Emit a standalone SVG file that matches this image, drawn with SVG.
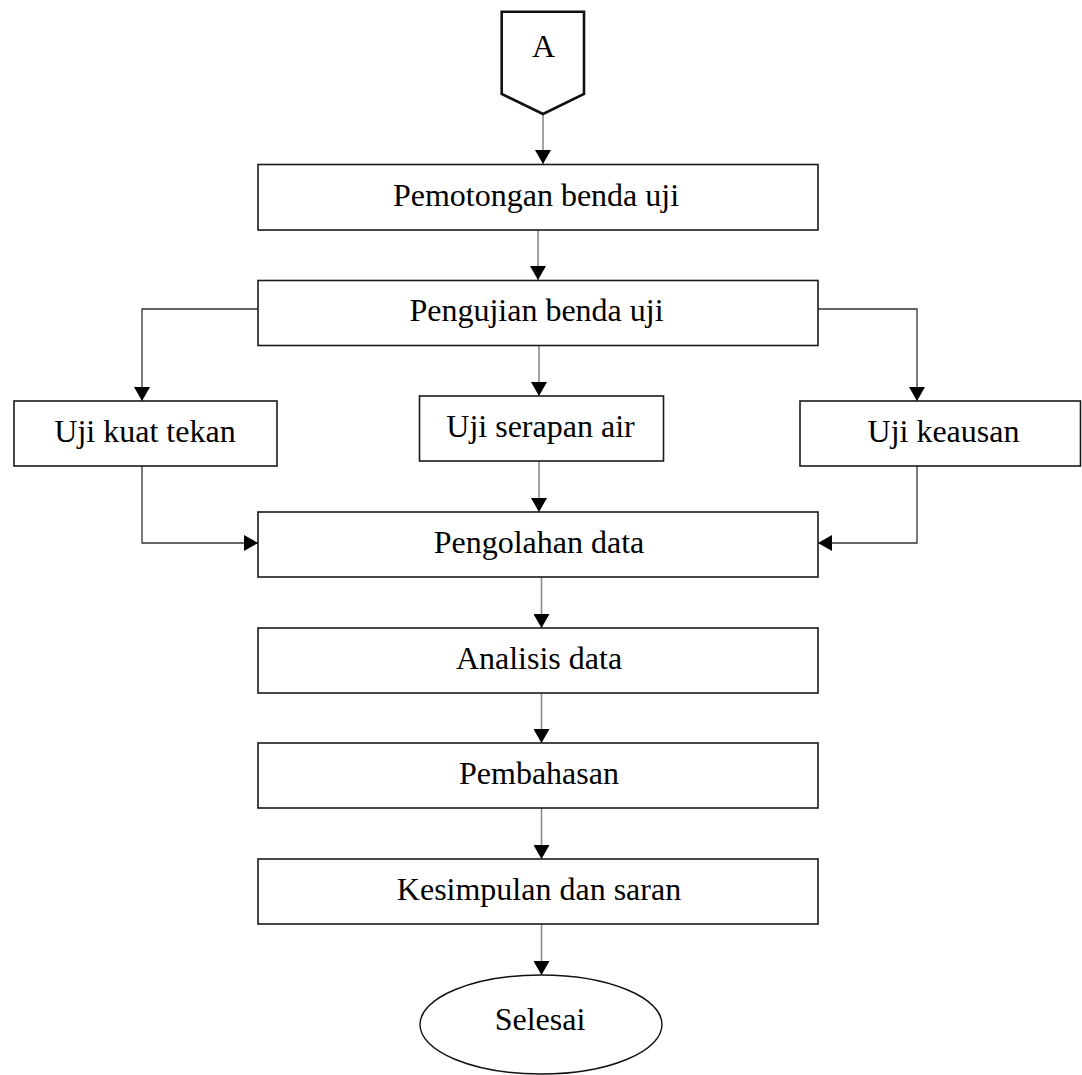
<svg xmlns="http://www.w3.org/2000/svg" width="1082" height="1075" viewBox="0 0 1082 1075">
<style>
.box{fill:#fff;stroke:#1a1a1a;stroke-width:1.6}
.t{font-family:"Liberation Serif","Times New Roman",serif;font-size:32px;fill:#000;text-anchor:middle}
.c{fill:none;stroke:#8a8a8a;stroke-width:1.6;marker-end:url(#ah)}
.s{fill:none;stroke:#333;stroke-width:1.3;marker-end:url(#ah)}
</style>
<defs>
<marker id="ah" markerUnits="userSpaceOnUse" markerWidth="16" markerHeight="16" refX="14" refY="8" orient="auto" viewBox="0 0 16 16">
<path d="M0,0 L14,8 L0,16 Z" fill="#000"/>
</marker>
</defs>
<rect width="1082" height="1075" fill="#fff"/>
<g id="connectors">
<path class="c" d="M543,114 V164"/>
<path class="c" d="M538,230 V280"/>
<path class="c" d="M539,346 V396"/>
<path class="s" d="M258,309 H142 V401"/>
<path class="s" d="M818,309 H917 V401"/>
<path class="c" d="M539,461 V512"/>
<path class="s" d="M142,466 V543 H258"/>
<path class="s" d="M917,466 V543 H818"/>
<path class="c" d="M541.5,577 V628"/>
<path class="c" d="M541.5,693 V743"/>
<path class="c" d="M541.5,808 V859"/>
<path class="c" d="M541.5,924 V975"/>
</g>
<g id="nodeA">
<path d="M501.7,11.7 H584 V94 L543,114 L501.7,94 Z" fill="#fff" stroke="#111" stroke-width="2.6" stroke-linejoin="miter"/>
<text class="t" x="543.5" y="57">A</text>
</g>
<g id="pemotongan">
<rect class="box" x="258" y="164.5" width="560" height="65.5"/>
<text class="t" x="536" y="205.5">Pemotongan benda uji</text>
</g>
<g id="pengujian">
<rect class="box" x="258" y="280.5" width="560" height="65"/>
<text class="t" x="536.5" y="320.5">Pengujian benda uji</text>
</g>
<g id="kuat-tekan">
<rect class="box" x="14" y="401" width="263" height="65"/>
<text class="t" x="145" y="442">Uji kuat tekan</text>
</g>
<g id="serapan">
<rect class="box" x="419.5" y="396" width="244" height="65"/>
<text class="t" x="540.5" y="436.5">Uji serapan air</text>
</g>
<g id="keausan">
<rect class="box" x="800" y="401" width="280.5" height="65"/>
<text class="t" x="943.5" y="442">Uji keausan</text>
</g>
<g id="pengolahan">
<rect class="box" x="258" y="512" width="560" height="65"/>
<text class="t" x="539" y="552.5">Pengolahan data</text>
</g>
<g id="analisis">
<rect class="box" x="258" y="628" width="560" height="65"/>
<text class="t" x="539" y="669">Analisis data</text>
</g>
<g id="pembahasan">
<rect class="box" x="258" y="743" width="560" height="65"/>
<text class="t" x="539" y="783.5">Pembahasan</text>
</g>
<g id="kesimpulan">
<rect class="box" x="258" y="859" width="560" height="65"/>
<text class="t" x="539" y="899.5">Kesimpulan dan saran</text>
</g>
<g id="selesai">
<ellipse cx="541" cy="1024.5" rx="121" ry="49.5" fill="#fff" stroke="#111" stroke-width="1.4"/>
<text class="t" x="540" y="1029.5">Selesai</text>
</g>
</svg>
